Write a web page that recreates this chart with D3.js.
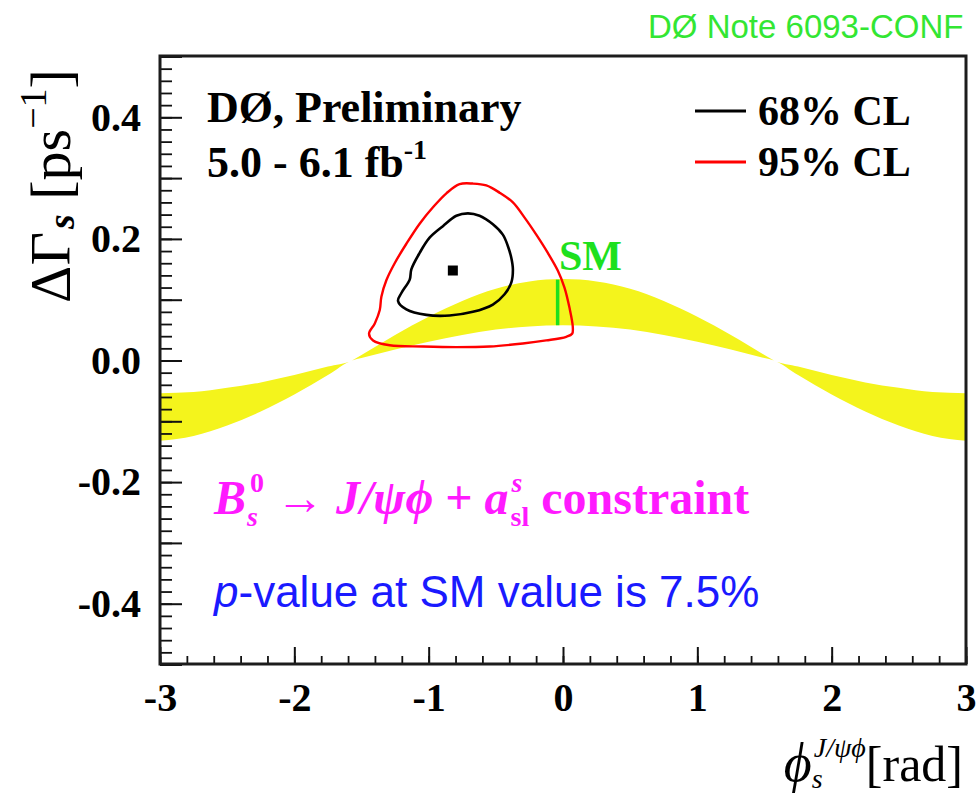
<!DOCTYPE html>
<html>
<head>
<meta charset="utf-8">
<script src="https://cdn.jsdelivr.net/npm/d3@7"></script>
<style>
  body { margin: 0; background: #ffffff; }
  svg { display: block; }
</style>
</head>
<body>
<svg id="chart" width="980" height="795"></svg>
<script>
// ---- data -------------------------------------------------------------
// axis ranges and labelled ticks
const xDomain = [-3, 3];
const yDomain = [-0.5, 0.5];
const xTickLabels = [-3, -2, -1, 0, 1, 2, 3];
const yTickLabels = [-0.4, -0.2, 0.0, 0.2, 0.4];

// SM band: DeltaGamma_s upper / lower edge versus phi_s
const bandPhi   = [-3, -2.75, -2.5, -2.25, -2, -1.75, -1.57, -1.5, -1.25, -1, -0.75, -0.5, -0.25, 0,
                   0.25, 0.5, 0.75, 1, 1.25, 1.5, 1.57, 1.75, 2, 2.25, 2.5, 2.75, 3];
const bandUpper = [-0.054, -0.052, -0.045, -0.036, -0.024, -0.010, 0.000, 0.009, 0.042, 0.072, 0.098, 0.118, 0.130, 0.134,
                   0.130, 0.118, 0.098, 0.072, 0.042, 0.009, 0.000, -0.010, -0.024, -0.036, -0.045, -0.052, -0.054];
const bandLower = [-0.132, -0.124, -0.107, -0.084, -0.056, -0.024, 0.000, 0.004, 0.018, 0.031, 0.042, 0.051, 0.056, 0.058,
                   0.056, 0.051, 0.042, 0.031, 0.018, 0.004, 0.000, -0.024, -0.056, -0.084, -0.107, -0.124, -0.132];

// 95% CL contour (phi_s, DeltaGamma_s)
const cl95Phi = [-0.770, -0.671, -0.571, -0.472, -0.373, -0.286, -0.199, -0.113, -0.039, 0.011, 0.048, 0.073, 0.068,
                 0.024, -0.125, -0.299, -0.546, -0.794, -1.042, -1.290, -1.414, -1.444, -1.401, -1.364, -1.352,
                 -1.315, -1.253, -1.166, -1.067, -0.968, -0.868];
const cl95DG  = [0.290, 0.291, 0.288, 0.276, 0.260, 0.235, 0.207, 0.177, 0.148, 0.120, 0.087, 0.055, 0.044,
                 0.039, 0.033, 0.028, 0.023, 0.022, 0.023, 0.025, 0.033, 0.044, 0.061, 0.083, 0.105,
                 0.132, 0.160, 0.192, 0.225, 0.252, 0.275];

// 68% CL contour
const cl68Phi = [-0.708, -0.621, -0.522, -0.448, -0.410, -0.385, -0.373, -0.385, -0.435, -0.522, -0.671,
                 -0.844, -1.017, -1.166, -1.228, -1.203, -1.141, -1.129, -1.067, -0.993, -0.894, -0.794];
const cl68DG  = [0.242, 0.238, 0.224, 0.207, 0.188, 0.169, 0.150, 0.128, 0.109, 0.092, 0.080,
                 0.074, 0.075, 0.084, 0.098, 0.111, 0.133, 0.150, 0.177, 0.202, 0.221, 0.238];

// best fit point
const bestPhi = [-0.82];
const bestDG  = [0.148];

// SM expectation
const smPhi   = -0.04;
const smDG    = [0.058, 0.133];

// legend entries
const legendLabels = ["68% CL", "95% CL"];
const legendColors = ["#000000", "#ff0000"];

// ---- drawing ------------------------------------------------------------
const svg = d3.select("#chart");
const serif = "'Liberation Serif', 'Times New Roman', 'DejaVu Serif', serif";
const sans  = "'Liberation Sans', Arial, Helvetica, sans-serif";

const frame = { left: 160, right: 966, top: 56, bottom: 664 };
const x = d3.scaleLinear().domain(xDomain).range([frame.left, frame.right]);
const y = d3.scaleLinear().domain(yDomain).range([frame.bottom + 0.5, frame.top + 0.5]);

// clip for plot content
svg.append("defs").append("clipPath").attr("id", "plotClip")
  .append("rect").attr("x", frame.left).attr("y", frame.top)
  .attr("width", frame.right - frame.left).attr("height", frame.bottom - frame.top);

const plot = svg.append("g").attr("clip-path", "url(#plotClip)");

// yellow SM band
const band = bandPhi.map((p, i) => ({ p, hi: bandUpper[i], lo: bandLower[i] }));
plot.append("path")
  .datum(band)
  .attr("fill", "#f4f41c")
  .attr("stroke", "none")
  .attr("d", d3.area()
    .x(d => x(d.p))
    .y0(d => y(d.lo))
    .y1(d => y(d.hi))
    .curve(d3.curveMonotoneX));

// contours
const contourLine = d3.line().x(d => x(d[0])).y(d => y(d[1])).curve(d3.curveCatmullRomClosed.alpha(0.5));
plot.append("path")
  .datum(cl95Phi.map((p, i) => [p, cl95DG[i]]))
  .attr("fill", "none").attr("stroke", "#ff0000").attr("stroke-width", 2.4)
  .attr("d", contourLine);
plot.append("path")
  .datum(cl68Phi.map((p, i) => [p, cl68DG[i]]))
  .attr("fill", "none").attr("stroke", "#000000").attr("stroke-width", 2.6)
  .attr("d", contourLine);

// best fit marker
plot.selectAll("rect.best").data(bestPhi).enter().append("rect")
  .attr("class", "best")
  .attr("x", d => x(d) - 5).attr("y", (d, i) => y(bestDG[i]) - 5)
  .attr("width", 10).attr("height", 10).attr("fill", "#000");

// SM line
plot.append("line")
  .attr("x1", x(smPhi)).attr("x2", x(smPhi))
  .attr("y1", y(smDG[0])).attr("y2", y(smDG[1]))
  .attr("stroke", "#1ee01e").attr("stroke-width", 3.5);

// ---- axes ----------------------------------------------------------------
function styleAxis(g, width) {
  g.select(".domain").remove();
  g.selectAll(".tick line").attr("stroke", "#111").attr("stroke-width", width);
  g.selectAll("text")
    .attr("font-family", serif).attr("font-weight", "bold").attr("font-size", 40).attr("fill", "#000");
}
// y minor ticks
svg.append("g").attr("transform", `translate(${frame.left},0)`)
  .call(d3.axisLeft(y).tickValues(d3.range(-0.5, 0.5001, 0.02)).tickSize(-12).tickFormat(""))
  .call(g => styleAxis(g, 1.8));
// y major ticks, labelled every 0.2
svg.append("g").attr("transform", `translate(${frame.left},0)`)
  .call(d3.axisLeft(y).tickValues(d3.range(-0.5, 0.5001, 0.1)).tickSize(-22).tickPadding(19)
    .tickFormat(d => yTickLabels.some(v => Math.abs(v - d) < 1e-6) ? d.toFixed(1) : ""))
  .call(g => styleAxis(g, 2));
// x minor ticks
svg.append("g").attr("transform", `translate(0,${frame.bottom})`)
  .call(d3.axisBottom(x).tickValues(d3.range(-3, 3.0001, 0.2)).tickSize(-8).tickFormat(""))
  .call(g => styleAxis(g, 1.8));
// x major ticks
svg.append("g").attr("transform", `translate(0,${frame.bottom})`)
  .call(d3.axisBottom(x).tickValues(xTickLabels).tickSize(-17).tickPadding(19).tickFormat(d => String(d)))
  .call(g => styleAxis(g, 2));

// frame
svg.append("rect")
  .attr("x", frame.left).attr("y", frame.top)
  .attr("width", frame.right - frame.left).attr("height", frame.bottom - frame.top)
  .attr("fill", "none").attr("stroke", "#1c1c1c").attr("stroke-width", 3);

// ---- rich text helper ---------------------------------------------------
// items: {t, fs, it, b, dy, fam} runs, or {stack:[sup, sub]} stacked scripts
function richText(parent, px, py, items, opts) {
  const o = Object.assign({ anchor: "start", fill: "#000", rotate: 0, family: serif }, opts || {});
  const g = parent.append("g");
  const inner = g.append("g");
  let cx = 0;
  const put = (it, atX) => {
    const t = inner.append("text")
      .attr("x", atX).attr("y", -(it.dy || 0))
      .attr("font-family", it.fam || o.family)
      .attr("font-size", it.fs)
      .attr("font-style", it.it ? "italic" : "normal")
      .attr("font-weight", it.b ? "bold" : "normal")
      .attr("fill", it.fill || o.fill)
      .style("white-space", "pre")
      .text(it.t);
    return t.node().getComputedTextLength();
  };
  items.forEach(it => {
    if (it.stack) {
      const w = Math.max(...it.stack.map(s => put(s, cx + (s.dx || 0)) + (s.dx || 0)));
      cx += w + (it.gap || 0);
    } else {
      cx += put(it, cx + (it.dx || 0)) + (it.dx || 0) + (it.gap || 0);
    }
  });
  let shift = 0;
  if (o.anchor === "end") shift = -cx;
  if (o.anchor === "middle") shift = -cx / 2;
  inner.attr("transform", `translate(${shift},0)`);
  g.attr("transform", `translate(${px},${py}) rotate(${o.rotate})`);
  return g;
}

// header texts
richText(svg, 207, 122, [{ t: "DØ, Preliminary", fs: 44, b: true }]);
richText(svg, 207, 177, [{ t: "5.0 - 6.1 fb", fs: 44, b: true }, { t: "-1", fs: 28, b: true, dy: 18 }]);

// legend
legendLabels.forEach((lab, i) => {
  const ly = 111 + i * 51;
  svg.append("line").attr("x1", 695).attr("x2", 746).attr("y1", ly).attr("y2", ly)
    .attr("stroke", legendColors[i]).attr("stroke-width", 3);
  richText(svg, 758, ly + 14, [{ t: lab, fs: 42, b: true }]);
});

// SM label
richText(svg, 559, 270, [{ t: "SM", fs: 42, b: true }], { fill: "#1ee01e" });

// magenta physics label
richText(svg, 214, 514, [
  { t: "B", fs: 48, it: true, b: true },
  { stack: [{ t: "0", fs: 28, b: true, dy: 22, dx: 4 }, { t: "s", fs: 28, it: true, b: true, dy: -12, dx: 1 }] },
  { t: " → ", fs: 48, b: true },
  { t: "J/ψϕ", fs: 48, it: true, b: true },
  { t: " + ", fs: 48, b: true },
  { t: "a", fs: 48, it: true, b: true },
  { stack: [{ t: "s", fs: 28, it: true, b: true, dy: 22, dx: 3 }, { t: "sl", fs: 28, b: true, dy: -12, dx: 2 }] },
  { t: " constraint", fs: 48, b: true }
], { fill: "#ff1aff" });

// p-value note
richText(svg, 214, 607, [
  { t: "p", fs: 44, it: true },
  { t: "-value at SM value is 7.5%", fs: 44 }
], { fill: "#1a1aff", family: sans });

// note tag in the corner
richText(svg, 648, 38, [{ t: "DØ Note 6093-CONF", fs: 33 }], { fill: "#33e633", family: sans });

// y axis title
richText(svg, 70, 186, [
  { t: "ΔΓ", fs: 58 },
  { t: "s", fs: 38, it: true, b: true, dy: -4, dx: 3 },
  { t: " [ps", fs: 58 },
  { t: "−1", fs: 38, dy: 24 },
  { t: "]", fs: 58 }
], { anchor: "middle", rotate: -90 });

// x axis title
richText(svg, 963, 781, [
  { t: "ϕ", fs: 54, it: true },
  { stack: [{ t: "J/ψϕ", fs: 28, it: true, dy: 24, dx: 2 }, { t: "s", fs: 28, it: true, dy: -7 }] },
  { t: "[rad]", fs: 50 }
], { anchor: "end" });
</script>
</body>
</html>
